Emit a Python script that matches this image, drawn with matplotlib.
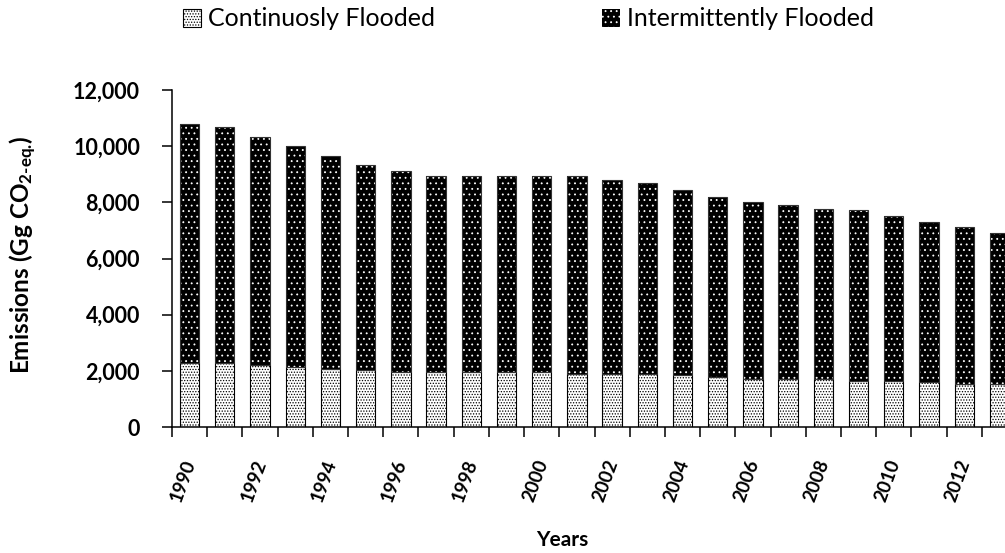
import matplotlib
matplotlib.use('Agg')
import matplotlib.pyplot as plt
import matplotlib.ticker as mt
import matplotlib.transforms as mtrans
from matplotlib.patches import Patch
import numpy as np

plt.rcParams['font.family'] = ['Lato', 'DejaVu Sans']
plt.rcParams['hatch.linewidth'] = 0.6
plt.rcParams['mathtext.fontset'] = 'custom'
plt.rcParams['mathtext.rm'] = 'Lato:bold'
plt.rcParams['mathtext.bf'] = 'Lato:bold'
plt.rcParams['mathtext.it'] = 'Lato:bold:italic'

years = list(range(1990, 2014))
continuous = [2280, 2280, 2210, 2150, 2080, 2020, 1960, 1960, 1960, 1960, 1960, 1900,
              1900, 1900, 1840, 1780, 1710, 1710, 1710, 1650, 1650, 1590, 1530, 1530]
intermittent = [8520, 8400, 8100, 7870, 7570, 7320, 7160, 6970, 6970, 6970, 6970, 7030,
                6910, 6780, 6600, 6420, 6300, 6180, 6070, 6070, 5870, 5710, 5580, 5390]
y_ticks = [0, 2000, 4000, 6000, 8000, 10000, 12000]

fig = plt.figure(figsize=(10.05, 5.53), dpi=100)
# plot area runs off the right edge on purpose (last bar is clipped)
ax = fig.add_axes([172 / 1005, 1 - 427 / 553, 845 / 1005, 337 / 553])

x = np.arange(len(years))
w = 0.55
ax.bar(x, continuous, w, color='white', edgecolor='black', linewidth=0.8,
       hatch='......', zorder=2)
ax.bar(x, intermittent, w, bottom=continuous, color='black', edgecolor='white',
       linewidth=0, hatch='...', zorder=2)
# outline on top of the dark segments
ax.bar(x, intermittent, w, bottom=continuous, fill=False, edgecolor='#333333',
       linewidth=0.8, zorder=3)

ax.set_xlim(-0.5, len(years) - 0.5)
ax.set_ylim(0, 12000)
ax.set_yticks(y_ticks)
ax.yaxis.set_major_formatter(mt.StrMethodFormatter('{x:,.0f}'))
ax.set_xticks(x[::2])
ax.set_xticklabels([str(y) for y in years[::2]], rotation=70, ha='right',
                   fontsize=13.5, fontweight='bold')
ax.set_xticks(np.arange(-0.5, len(years), 1.0), minor=True)

for s in ['top', 'right']:
    ax.spines[s].set_visible(False)
for s in ['left', 'bottom']:
    ax.spines[s].set_linewidth(1.1)
ax.tick_params(axis='y', length=7, width=1.1, pad=16, labelsize=15.5)
ax.tick_params(axis='x', which='major', length=0, pad=22)
ax.tick_params(axis='x', which='minor', length=7, width=1.1)
for lab in ax.get_yticklabels():
    lab.set_fontweight('bold')
shift = mtrans.ScaledTranslation(9 / 100, 0, fig.dpi_scale_trans)
for lab in ax.get_xticklabels():
    lab.set_transform(lab.get_transform() + shift)

fig.text(23 / 1005, 1 - 255 / 553, r'Emissions (Gg CO$_{\text{2-eq.}}$)',
         rotation=90, ha='center', va='center', fontsize=17.5, fontweight='bold')
fig.text(562 / 1005, 1 - 540 / 553, 'Years', ha='center', va='center',
         fontsize=15, fontweight='bold')

h1 = Patch(facecolor='white', edgecolor='black', hatch='......', linewidth=0.8)
h2 = Patch(facecolor='black', edgecolor='white', hatch='...', linewidth=0)
leg_kw = dict(frameon=False, borderpad=0, borderaxespad=0, handlelength=0.7,
              handleheight=0.7, handletextpad=0.3)
fig.legend([h1], ['Continuosly Flooded'], loc='center left', fontsize=18,
           bbox_to_anchor=(183 / 1005, 1 - 19 / 553), **leg_kw)
fig.legend([h2], ['Intermittently Flooded'], loc='center left', fontsize=18,
           bbox_to_anchor=(602 / 1005, 1 - 19 / 553), **leg_kw)

fig.savefig('out.png', dpi=100)
